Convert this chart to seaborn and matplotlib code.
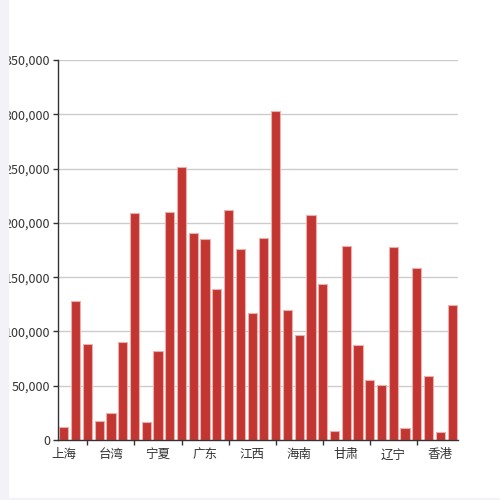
import numpy as np
import pandas as pd
import seaborn as sns
import matplotlib.pyplot as plt
from matplotlib.patches import Rectangle
from matplotlib.ticker import FuncFormatter, FixedLocator

sns.set_theme(style="white")
plt.rcParams["font.family"] = ["Noto Sans CJK SC", "DejaVu Sans"]

# -------------------------------
# DATA
# -------------------------------
provinces = [
    '上海', '云南', '内蒙古', '北京', '台湾', '吉林', '四川', '天津',
    '宁夏', '安徽', '山东', '山西', '广东', '广西', '新疆', '江苏',
    '江西', '河北', '河南', '浙江', '海南', '湖北', '湖南', '澳门',
    '甘肃', '福建', '西藏', '贵州', '辽宁', '重庆', '陕西', '青海',
    '香港', '黑龙江'
]
values = [
    11700, 127700, 88100, 17500, 24900, 90300, 209000, 16300,
    82000, 209700, 251200, 190400, 185400, 139100, 211800, 175600,
    117000, 186000, 303300, 119700, 96700, 206900, 143700, 8300,
    178700, 87500, 55500, 50300, 178000, 10700, 158100, 58900,
    7100, 124000
]
y_ticks = [0, 50000, 100000, 150000, 200000, 250000, 300000, 350000]

df = pd.DataFrame({'province': provinces, 'value': values})

# -------------------------------
# PLOT
# -------------------------------
fig = plt.figure(figsize=(5, 5), dpi=100)
ax = fig.add_axes([58 / 500, 60 / 500, 400 / 500, 380 / 500])

sns.barplot(data=df, x='province', y='value', order=provinces, color='#c23531',
            saturation=1, width=0.78, edgecolor='#eab0ae', linewidth=0.8, ax=ax)

ax.set_xlim(-0.5, len(provinces) - 0.5)
ax.set_ylim(0, 350000)
ax.set_yticks(y_ticks)
ax.yaxis.set_major_formatter(FuncFormatter(lambda v, p: f"{int(v):,}"))
ax.grid(axis='y', color='#cccccc', linewidth=1)
ax.set_axisbelow(True)

# x labels every 4th, ticks in between
label_idx = list(range(0, len(provinces), 4))
ax.set_xticks(label_idx)
ax.set_xticklabels([provinces[i] for i in label_idx])
ax.xaxis.set_minor_locator(FixedLocator(list(range(2, len(provinces), 4))))
ax.tick_params(axis='x', which='major', length=0, pad=6, labelsize=9, labelcolor='#333333')
ax.tick_params(axis='x', which='minor', length=3.6, width=1, color='#333333', direction='out', bottom=True)
ax.tick_params(axis='y', length=3.6, width=1, color='#333333', pad=2.2, labelsize=9,
               labelcolor='#333333', left=True)

for s in ['top', 'right']:
    ax.spines[s].set_visible(False)
for s in ['left', 'bottom']:
    ax.spines[s].set_color('#333333')
    ax.spines[s].set_linewidth(1)

ax.set_xlabel('')
ax.set_ylabel('')

# grey page strip on the left / bottom
fig.patches.append(Rectangle((0, 0), 8 / 500, 1, transform=fig.transFigure,
                             color='#f2f2f8', zorder=10))
fig.patches.append(Rectangle((0, 0), 1, 2 / 500, transform=fig.transFigure,
                             color='#f2f2f8', zorder=10))

fig.savefig('out.png', dpi=100)
